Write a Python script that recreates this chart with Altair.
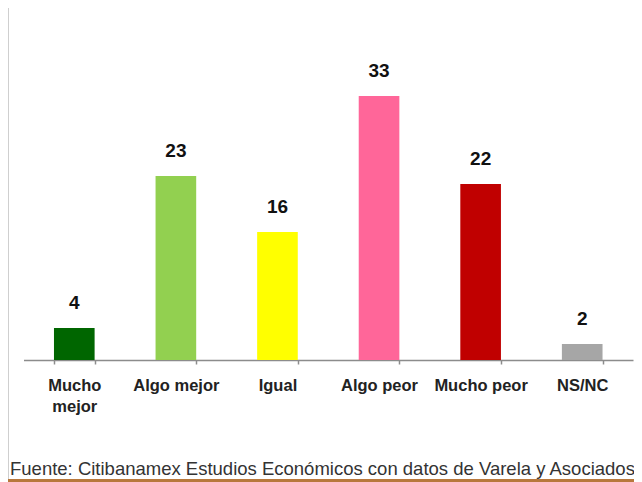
import altair as alt
import pandas as pd

categorias = ["Mucho mejor", "Algo mejor", "Igual", "Algo peor", "Mucho peor", "NS/NC"]
valores = [4, 23, 16, 33, 22, 2]
colores = ["#006600", "#92d050", "#ffff00", "#ff6699", "#c00000", "#a6a6a6"]
fuente = "Fuente: Citibanamex Estudios Económicos con datos de Varela y Asociados"

df = pd.DataFrame({"cat": categorias, "val": valores})

FONT = "Liberation Sans"

x_enc = alt.X(
    "cat:N",
    sort=categorias,
    title=None,
    scale=alt.Scale(range=[15.5, 625], paddingInner=0.6, paddingOuter=0.3, round=False),
    axis=alt.Axis(
        labelAngle=0,
        labelFont=FONT,
        labelFontSize=16.5,
        labelFontWeight="bold",
        labelColor="#222222",
        labelPadding=13,
        labelLineHeight=21,
        labelExpr="datum.label == 'Mucho mejor' ? ['Mucho', 'mejor'] : datum.label",
        domainColor="#8c8c8c",
        domainWidth=1.5,
        tickColor="#8c8c8c",
        tickSize=4,
        tickWidth=1.5,
        tickBand="extent",
        grid=False,
    ),
)
y_enc = alt.Y("val:Q", scale=alt.Scale(domain=[0, 44]), axis=None)

base = alt.Chart(df).encode(x=x_enc, y=y_enc)

bars = base.mark_bar().encode(
    color=alt.Color("cat:N", scale=alt.Scale(domain=categorias, range=colores), legend=None)
)

labels = base.mark_text(
    font=FONT, fontSize=19, fontWeight="bold", color="#111111",
    baseline="alphabetic", dy=-19
).encode(text="val:Q")

note = alt.Chart(pd.DataFrame({"t": [fuente]})).mark_text(
    font=FONT, fontSize=18.5, color="#333333", align="left", baseline="alphabetic"
).encode(text="t:N", x=alt.value(2), y=alt.value(467))

left_line = alt.Chart(pd.DataFrame({"a": [0]})).mark_rule(
    color="#cfcfcf", strokeWidth=2
).encode(x=alt.value(0), y=alt.value(0), y2=alt.value(471))

bottom_line = alt.Chart(pd.DataFrame({"a": [0]})).mark_rule(
    color="#b8783c", strokeWidth=3
).encode(x=alt.value(0), x2=alt.value(626), y=alt.value(472.5))

chart = alt.layer(left_line, bars, labels, note, bottom_line).properties(
    width=626,
    height=352,
    background="white",
    autosize=alt.AutoSizeParams(type="none"),
    padding={"left": 0, "top": 0, "right": 0, "bottom": 122},
).configure_view(stroke=None)

chart.save("out.html", embed_options={"renderer": "svg", "actions": False})
